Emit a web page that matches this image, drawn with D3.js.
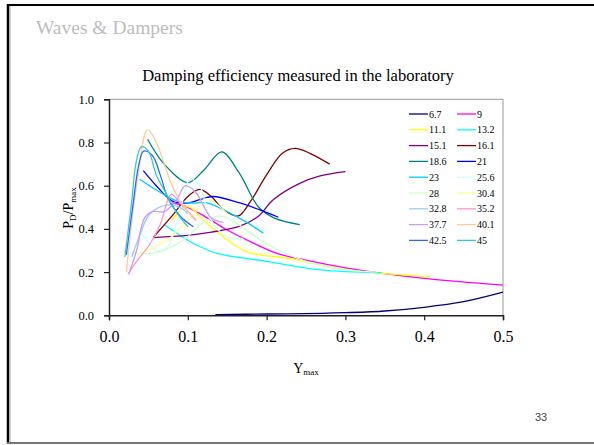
<!DOCTYPE html>
<html>
<head>
<meta charset="UTF-8">
<script src="https://cdn.jsdelivr.net/npm/d3@7"></script>
<style>
  body { margin: 0; background: #fff; }
  svg { display: block; }
  text { font-family: "Liberation Serif", "Times New Roman", serif; fill: #000; }
</style>
</head>
<body>
<svg id="chart" width="594" height="445"></svg>
<script>
// legend labels, in the order of the legend (row by row)
var seriesNames = ["6.7", "9", "11.1", "13.2", "15.1", "16.1", "18.6", "21", "23",
  "25.6", "28", "30.4", "32.8", "35.2", "37.7", "40.1", "42.5", "45"];

var seriesColors = ["#000080", "#ff00ff", "#ffff00", "#00ffff", "#800080", "#800000",
  "#008080", "#0000ff", "#00ccff", "#ccffff", "#ccffcc", "#ffff99", "#99ccff",
  "#ff99cc", "#cc99ff", "#ffcc99", "#3366ff", "#33cccc"];

// [Ymax, PD/Pmax]
var s6_7 = [[0.135, 0.003], [0.2, 0.006], [0.27, 0.009], [0.3, 0.012], [0.35, 0.02], [0.4, 0.037], [0.45, 0.063], [0.5, 0.107]];
var s9 = [[0.08, 0.52], [0.1, 0.5], [0.125, 0.45], [0.15, 0.395], [0.18, 0.34], [0.213, 0.287], [0.25, 0.255], [0.3, 0.22], [0.4, 0.171], [0.5, 0.14]];
var s11_1 = [[0.08, 0.44], [0.095, 0.5], [0.103, 0.5], [0.12, 0.44], [0.145, 0.364], [0.175, 0.294], [0.23, 0.262], [0.302, 0.21], [0.407, 0.179]];
var s13_2 = [[0.07, 0.42], [0.09, 0.37], [0.107, 0.333], [0.137, 0.287], [0.2, 0.25], [0.268, 0.21], [0.345, 0.197]];
var s15_1 = [[0.056, 0.36], [0.1, 0.37], [0.13, 0.385], [0.166, 0.413], [0.19, 0.46], [0.208, 0.534], [0.242, 0.611], [0.268, 0.645], [0.3, 0.665]];
var s16_1 = [[0.056, 0.36], [0.08, 0.46], [0.1, 0.55], [0.115, 0.583], [0.13, 0.55], [0.145, 0.49], [0.164, 0.46], [0.18, 0.53], [0.2, 0.65], [0.22, 0.75], [0.236, 0.773], [0.255, 0.75], [0.28, 0.7]];
var s18_6 = [[0.049, 0.815], [0.07, 0.7], [0.1, 0.614], [0.12, 0.67], [0.143, 0.757], [0.165, 0.66], [0.19, 0.5], [0.21, 0.45], [0.242, 0.42]];
var s21 = [[0.0435, 0.67], [0.06, 0.6], [0.08, 0.53], [0.1, 0.52], [0.115, 0.535], [0.132, 0.55], [0.166, 0.52], [0.19, 0.49], [0.215, 0.454]];
var s23 = [[0.039, 0.63], [0.06, 0.58], [0.086, 0.53], [0.105, 0.52], [0.124, 0.52], [0.15, 0.48], [0.175, 0.43], [0.196, 0.38]];
var s25_6 = [[0.035, 0.4], [0.045, 0.36], [0.061, 0.3], [0.075, 0.32], [0.09, 0.48], [0.103, 0.63], [0.115, 0.6], [0.128, 0.45], [0.149, 0.364], [0.17, 0.356]];
var s28 = [[0.03, 0.29], [0.06, 0.29], [0.095, 0.35], [0.12, 0.43], [0.14, 0.46], [0.16, 0.43], [0.2, 0.33], [0.25, 0.25], [0.3, 0.21], [0.34, 0.2]];
var s30_4 = [[0.036, 0.28], [0.06, 0.32], [0.078, 0.36], [0.095, 0.42], [0.108, 0.47], [0.124, 0.54], [0.135, 0.52], [0.15, 0.47]];
var s32_8 = [[0.029, 0.27], [0.04, 0.38], [0.052, 0.47], [0.073, 0.51], [0.09, 0.5], [0.1, 0.47]];
var s35_2 = [[0.024, 0.19], [0.035, 0.25], [0.052, 0.33], [0.065, 0.42], [0.079, 0.56], [0.09, 0.52], [0.1, 0.48], [0.11, 0.44]];
var s37_7 = [[0.025, 0.19], [0.035, 0.3], [0.045, 0.45], [0.055, 0.48], [0.07, 0.48], [0.085, 0.53], [0.097, 0.6], [0.11, 0.57], [0.13, 0.45], [0.145, 0.43]];
var s40_1 = [[0.022, 0.2], [0.035, 0.6], [0.049, 0.86], [0.06, 0.8], [0.078, 0.62], [0.09, 0.53], [0.111, 0.44]];
var s42_5 = [[0.022, 0.28], [0.03, 0.5], [0.038, 0.7], [0.044, 0.76], [0.055, 0.74], [0.065, 0.65], [0.075, 0.54], [0.09, 0.46], [0.107, 0.41]];
var s45 = [[0.02, 0.27], [0.028, 0.5], [0.035, 0.72], [0.041, 0.78], [0.05, 0.76], [0.06, 0.65], [0.073, 0.56], [0.085, 0.48], [0.1, 0.41]];

var seriesData = [s6_7, s9, s11_1, s13_2, s15_1, s16_1, s18_6, s21, s23,
  s25_6, s28, s30_4, s32_8, s35_2, s37_7, s40_1, s42_5, s45];

var xTicks = [0, 0.1, 0.2, 0.3, 0.4, 0.5];
var yTicks = [0, 0.2, 0.4, 0.6, 0.8, 1.0];

var serif = "'Liberation Serif', 'Times New Roman', serif";
var svg = d3.select("#chart");

// slide frame
svg.append("line").attr("x1", 8).attr("y1", 4).attr("x2", 8).attr("y2", 444)
  .attr("stroke", "#000").attr("stroke-width", 2.5);
svg.append("line").attr("x1", 10).attr("y1", 4).attr("x2", 10).attr("y2", 442)
  .attr("stroke", "#aaa").attr("stroke-width", 1);
svg.append("line").attr("x1", 7).attr("y1", 5).attr("x2", 594).attr("y2", 5)
  .attr("stroke", "#000").attr("stroke-width", 2);
svg.append("line").attr("x1", 7).attr("y1", 443).attr("x2", 594).attr("y2", 443)
  .attr("stroke", "#777").attr("stroke-width", 2);

svg.append("text").attr("x", 36).attr("y", 34)
  .style("font-size", "19.5px").style("fill", "#bdbdbd")
  .text("Waves & Dampers");

svg.append("text").attr("x", 541).attr("y", 421).attr("text-anchor", "middle")
  .style("font-family", "'Liberation Sans', Arial, sans-serif")
  .style("font-size", "11px").style("fill", "#444")
  .text("33");

var x = d3.scaleLinear().domain([0, 0.5]).range([109, 503]);
var y = d3.scaleLinear().domain([0, 1]).range([315.3, 99.3]);

svg.append("text").attr("x", 298).attr("y", 81).attr("text-anchor", "middle")
  .style("font-size", "16.5px")
  .text("Damping efficiency measured in the laboratory");

// plot area border (top and right)
svg.append("path")
  .attr("d", "M" + x(0) + "," + y(1) + "H" + x(0.5) + "V" + y(0))
  .attr("fill", "none").attr("stroke", "#999").attr("stroke-width", 1);

// series
var line = d3.line()
  .x(function (d) { return x(d[0]); })
  .y(function (d) { return y(d[1]); })
  .curve(d3.curveCatmullRom.alpha(0.5));

svg.append("g").selectAll("path")
  .data(seriesData)
  .enter()
  .append("path")
  .attr("d", line)
  .attr("fill", "none")
  .attr("stroke", function (d, i) { return seriesColors[i]; })
  .attr("stroke-width", 1.3);

// axes
var xAxis = svg.append("g")
  .attr("transform", "translate(0," + y(0) + ")")
  .call(d3.axisBottom(x).tickValues(xTicks).tickFormat(d3.format(".1f")).tickSize(5).tickPadding(10));
var yAxis = svg.append("g")
  .attr("transform", "translate(" + x(0) + ",0)")
  .call(d3.axisLeft(y).tickValues(yTicks).tickFormat(d3.format(".1f")).tickSize(5).tickPadding(10));

[xAxis, yAxis].forEach(function (g) {
  g.attr("font-family", serif);
  g.select(".domain").attr("stroke", "#222").attr("stroke-width", 1.5);
  g.selectAll(".tick line").attr("stroke", "#222").attr("stroke-width", 1.2);
  g.selectAll("text").style("font-family", serif).attr("fill", "#000");
});
xAxis.selectAll("text").style("font-size", "16px");
yAxis.selectAll("text").style("font-size", "12.5px");

// axis titles
var xt = svg.append("text").attr("x", 306).attr("y", 373).attr("text-anchor", "middle")
  .style("font-size", "14px");
xt.append("tspan").text("Y");
xt.append("tspan").attr("dy", 2).style("font-size", "9px").text("max");

var yt = svg.append("text").attr("transform", "translate(73,208) rotate(-90)")
  .attr("text-anchor", "middle").style("font-size", "14px");
yt.append("tspan").text("P");
yt.append("tspan").attr("dy", 3).style("font-size", "9px").text("D");
yt.append("tspan").attr("dy", -3).text("/P");
yt.append("tspan").attr("dy", 3).style("font-size", "9px").text("max");

// legend, two columns
var legend = svg.append("g").selectAll("g")
  .data(seriesNames)
  .enter()
  .append("g")
  .attr("transform", function (d, i) {
    return "translate(" + (i % 2 === 0 ? 409 : 457) + "," + (114 + Math.floor(i / 2) * 15.8) + ")";
  });
legend.append("line").attr("x1", 0).attr("x2", 19).attr("y1", 0).attr("y2", 0)
  .attr("stroke", function (d, i) { return seriesColors[i]; })
  .attr("stroke-width", 1.3);
legend.append("text").attr("x", 20).attr("y", 3.5)
  .style("font-size", "10px")
  .style("font-family", serif)
  .text(function (d) { return d; });
</script>
</body>
</html>
